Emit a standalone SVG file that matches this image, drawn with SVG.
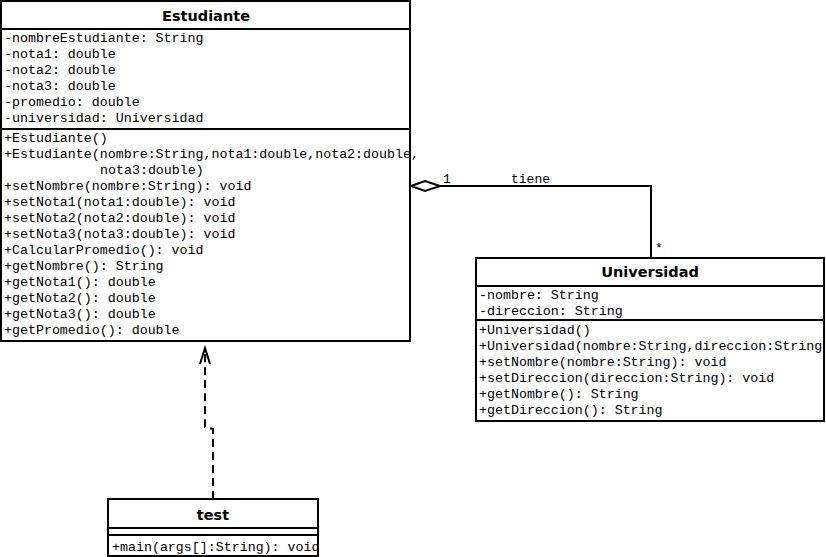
<svg xmlns="http://www.w3.org/2000/svg" width="826" height="557" viewBox="0 0 826 557">
<style>
.box{fill:#fff;stroke:#000;stroke-width:2}
.sep{stroke:#000;stroke-width:2}
.title{font-family:"DejaVu Sans",sans-serif;font-weight:bold;font-size:14.5px;text-anchor:middle;fill:#000}
.m{font-family:"Liberation Mono","Courier New",monospace;font-size:13.3px;fill:#000}
.lbl{font-family:"Liberation Mono","Courier New",monospace;font-size:13px;fill:#000}
.edge{fill:none;stroke:#000;stroke-width:2}
</style>
<defs>
<clipPath id="cu"><rect x="476" y="258" width="348" height="163"/></clipPath>
<clipPath id="ct"><rect x="108" y="499" width="210" height="57"/></clipPath>
</defs>
<rect width="826" height="557" fill="#fff"/>
<g id="connectors">
<path class="edge" d="M440,186 H651 V258"/>
<polygon points="411,186 425,181 440,186 425,191" fill="#fff" stroke="#000" stroke-width="2"/>
<path class="edge" d="M213,499 V429 L205,427 V350" stroke-dasharray="8,5"/>
<polyline class="edge" points="200,364 205,348 210,364"/>
<text class="lbl" x="443" y="183">1</text>
<text class="lbl" x="511" y="183">tiene</text>
<text class="lbl" x="655" y="252" font-size="10">*</text>
</g>
<g id="Estudiante">
<rect class="box" x="1" y="1" width="409" height="340"/>
<line class="sep" x1="1" y1="29" x2="410" y2="29"/>
<line class="sep" x1="1" y1="129" x2="410" y2="129"/>
<text class="title" x="206" y="21">Estudiante</text>
<text class="m" x="4" y="42">-nombreEstudiante: String</text>
<text class="m" x="4" y="58">-nota1: double</text>
<text class="m" x="4" y="74">-nota2: double</text>
<text class="m" x="4" y="90">-nota3: double</text>
<text class="m" x="4" y="106">-promedio: double</text>
<text class="m" x="4" y="122">-universidad: Universidad</text>
<text class="m" x="4" y="142">+Estudiante()</text>
<text class="m" x="4" y="158">+Estudiante(nombre:String,nota1:double,nota2:double,</text>
<text class="m" x="100" y="174">nota3:double)</text>
<text class="m" x="4" y="190">+setNombre(nombre:String): void</text>
<text class="m" x="4" y="206">+setNota1(nota1:double): void</text>
<text class="m" x="4" y="222">+setNota2(nota2:double): void</text>
<text class="m" x="4" y="238">+setNota3(nota3:double): void</text>
<text class="m" x="4" y="254">+CalcularPromedio(): void</text>
<text class="m" x="4" y="270">+getNombre(): String</text>
<text class="m" x="4" y="286">+getNota1(): double</text>
<text class="m" x="4" y="302">+getNota2(): double</text>
<text class="m" x="4" y="318">+getNota3(): double</text>
<text class="m" x="4" y="334">+getPromedio(): double</text>
</g>
<g id="Universidad">
<rect class="box" x="476" y="258" width="348" height="163"/>
<line class="sep" x1="476" y1="286" x2="824" y2="286"/>
<line class="sep" x1="476" y1="320" x2="824" y2="320"/>
<text class="title" x="650" y="277">Universidad</text>
<g clip-path="url(#cu)">
<text class="m" x="479" y="299">-nombre: String</text>
<text class="m" x="479" y="315">-direccion: String</text>
<text class="m" x="479" y="334">+Universidad()</text>
<text class="m" x="479" y="350">+Universidad(nombre:String,direccion:String)</text>
<text class="m" x="479" y="366">+setNombre(nombre:String): void</text>
<text class="m" x="479" y="382">+setDireccion(direccion:String): void</text>
<text class="m" x="479" y="398">+getNombre(): String</text>
<text class="m" x="479" y="414">+getDireccion(): String</text>
</g>
<rect x="476" y="258" width="348" height="163" fill="none" stroke="#000" stroke-width="2"/>
</g>
<g id="test">
<rect class="box" x="108" y="499" width="210" height="57"/>
<line class="sep" x1="108" y1="528" x2="318" y2="528"/>
<line class="sep" x1="108" y1="535" x2="318" y2="535"/>
<text class="title" x="213" y="520">test</text>
<g clip-path="url(#ct)">
<text class="m" x="112" y="551">+main(args[]:String): void</text>
</g>
<rect x="108" y="499" width="210" height="57" fill="none" stroke="#000" stroke-width="2"/>
</g>
</svg>
